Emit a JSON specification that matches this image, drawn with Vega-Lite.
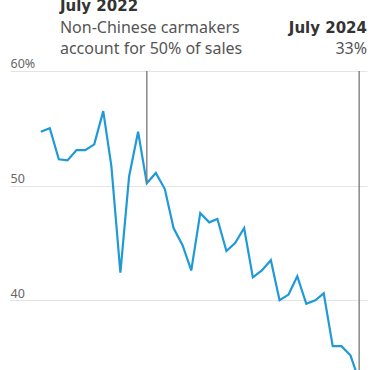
{
  "$schema": "https://vega.github.io/schema/vega-lite/v6.json",
  "autosize": {"type": "none"},
  "padding": {"top": 0, "bottom": 0, "left": 10, "right": 11},
  "width": 357,
  "height": 370,
  "background": "white",
  "config": {
    "view": {"stroke": null},
    "font": "Noto Sans"
  },
  "datasets": {
    "share": [
      {"date": "2021-07-01", "value": 54.7},
      {"date": "2021-08-01", "value": 55.0},
      {"date": "2021-09-01", "value": 52.3},
      {"date": "2021-10-01", "value": 52.2},
      {"date": "2021-11-01", "value": 53.1},
      {"date": "2021-12-01", "value": 53.1},
      {"date": "2022-01-01", "value": 53.6},
      {"date": "2022-02-01", "value": 56.5},
      {"date": "2022-03-01", "value": 51.7},
      {"date": "2022-04-01", "value": 42.4},
      {"date": "2022-05-01", "value": 50.8},
      {"date": "2022-06-01", "value": 54.7},
      {"date": "2022-07-01", "value": 50.2},
      {"date": "2022-08-01", "value": 51.1},
      {"date": "2022-09-01", "value": 49.7},
      {"date": "2022-10-01", "value": 46.3},
      {"date": "2022-11-01", "value": 44.8},
      {"date": "2022-12-01", "value": 42.6},
      {"date": "2023-01-01", "value": 47.6},
      {"date": "2023-02-01", "value": 46.8},
      {"date": "2023-03-01", "value": 47.1},
      {"date": "2023-04-01", "value": 44.3},
      {"date": "2023-05-01", "value": 45.0},
      {"date": "2023-06-01", "value": 46.3},
      {"date": "2023-07-01", "value": 42.0},
      {"date": "2023-08-01", "value": 42.6},
      {"date": "2023-09-01", "value": 43.5},
      {"date": "2023-10-01", "value": 40.0},
      {"date": "2023-11-01", "value": 40.5},
      {"date": "2023-12-01", "value": 42.1},
      {"date": "2024-01-01", "value": 39.7},
      {"date": "2024-02-01", "value": 40.0},
      {"date": "2024-03-01", "value": 40.6},
      {"date": "2024-04-01", "value": 36.0},
      {"date": "2024-05-01", "value": 36.0},
      {"date": "2024-06-01", "value": 35.2},
      {"date": "2024-07-01", "value": 33.0}
    ],
    "rules": [
      {"date": "2022-07-01", "from": 50.2, "to": 60},
      {"date": "2024-07-01", "from": 30, "to": 60}
    ],
    "heads": [
      {"date": "2021-09-05", "value": 65.2, "text": "July 2022", "side": "left"},
      {"date": "2024-07-28", "value": 63.27, "text": "July 2024", "side": "right"}
    ],
    "bodies": [
      {"date": "2021-09-05", "value": 63.27, "text": "Non-Chinese carmakers", "side": "left"},
      {"date": "2021-09-05", "value": 61.45, "text": "account for 50% of sales", "side": "left"},
      {"date": "2024-07-28", "value": 61.45, "text": "33%", "side": "right"}
    ]
  },
  "layer": [
    {
      "data": {"name": "share"},
      "mark": {"type": "line", "color": "#1f9ad6", "strokeWidth": 2.2, "clip": true},
      "encoding": {
        "x": {
          "field": "date", "type": "temporal",
          "scale": {"domain": [{"year": 2021, "month": 3, "date": 17, "utc": true}, {"year": 2024, "month": 7, "date": 28, "utc": true}]},
          "axis": null
        },
        "y": {
          "field": "value", "type": "quantitative",
          "scale": {"domain": [33.92, 66.19], "nice": false, "zero": false},
          "axis": {
            "values": [40, 50, 60],
            "orient": "left",
            "domain": false,
            "ticks": false,
            "grid": true,
            "gridColor": "#e4e4e4",
            "gridWidth": 1,
            "labelAlign": "left",
            "labelBaseline": "alphabetic",
            "labelPadding": 0,
            "labelOffset": -3,
            "labelFontSize": 12.5,
            "labelColor": "#666666",
            "labelFont": "Noto Sans",
            "labelExpr": "datum.value == 60 ? '60%' : datum.label",
            "title": null
          }
        }
      }
    },
    {
      "data": {"name": "rules"},
      "mark": {"type": "rule", "color": "#777777", "strokeWidth": 1.3, "clip": true},
      "encoding": {
        "x": {"field": "date", "type": "temporal"},
        "y": {"field": "from", "type": "quantitative"},
        "y2": {"field": "to"}
      }
    },
    {
      "data": {"name": "share"},
      "transform": [{"filter": "datum.date == '2022-07-01'"}],
      "mark": {"type": "circle", "color": "#222222", "size": 45, "opacity": 1},
      "encoding": {
        "x": {"field": "date", "type": "temporal"},
        "y": {"field": "value", "type": "quantitative"}
      }
    },
    {
      "data": {"name": "bodies"},
      "transform": [{"filter": "datum.side == 'left'"}],
      "mark": {"type": "text", "baseline": "alphabetic", "align": "left", "fontSize": 16, "color": "#555555"},
      "encoding": {
        "x": {"field": "date", "type": "temporal"},
        "y": {"field": "value", "type": "quantitative"},
        "text": {"field": "text"}
      }
    },
    {
      "data": {"name": "bodies"},
      "transform": [{"filter": "datum.side == 'right'"}],
      "mark": {"type": "text", "baseline": "alphabetic", "align": "right", "fontSize": 16, "color": "#555555"},
      "encoding": {
        "x": {"field": "date", "type": "temporal"},
        "y": {"field": "value", "type": "quantitative"},
        "text": {"field": "text"}
      }
    },
    {
      "data": {"name": "heads"},
      "transform": [{"filter": "datum.side == 'left'"}],
      "mark": {"type": "text", "baseline": "alphabetic", "align": "left", "fontSize": 15, "font": "DejaVu Sans", "fontWeight": "bold", "color": "#333333"},
      "encoding": {
        "x": {"field": "date", "type": "temporal"},
        "y": {"field": "value", "type": "quantitative"},
        "text": {"field": "text"}
      }
    },
    {
      "data": {"name": "heads"},
      "transform": [{"filter": "datum.side == 'right'"}],
      "mark": {"type": "text", "baseline": "alphabetic", "align": "right", "fontSize": 15, "font": "DejaVu Sans", "fontWeight": "bold", "color": "#333333"},
      "encoding": {
        "x": {"field": "date", "type": "temporal"},
        "y": {"field": "value", "type": "quantitative"},
        "text": {"field": "text"}
      }
    }
  ]
}
